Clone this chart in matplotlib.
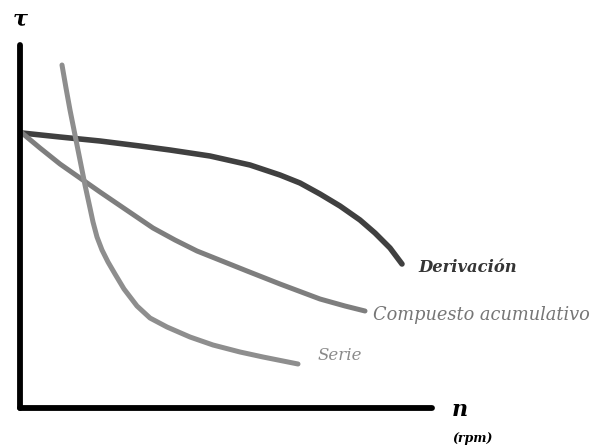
import matplotlib.pyplot as plt
import numpy as np

# curvas par-velocidad de motores de CC (n en x, tau en y)
n_derivacion = [2, 40, 80, 120, 150, 190, 230, 260, 280, 300, 320, 340, 355, 370, 382]
tau_derivacion = [275, 271, 267, 262, 258, 252, 243, 233, 225, 214, 202, 188, 175, 160, 144]

n_compuesto = [2, 20, 40, 60, 80, 105, 133, 155, 177, 202, 227, 260, 300, 325, 345]
tau_compuesto = [275, 260, 244, 230, 216, 199, 180, 168, 157, 147, 137, 124, 109, 102, 97]

n_serie = [42, 46, 50, 55, 60, 65, 70, 73, 77, 82, 88, 95, 104, 117, 130, 147, 170, 193, 220, 243, 278]
tau_serie = [343, 320, 298, 273, 248, 223, 200, 186, 171, 158, 146, 134, 119, 102, 90, 81, 71, 63, 56, 51, 44]

fig = plt.figure(figsize=(5.93, 4.48), dpi=100)
ax = fig.add_axes([0, 0, 1, 1])
ax.set_xlim(-20, 573)
ax.set_ylim(-40, 408)

ax.plot(n_derivacion, tau_derivacion, color='#404040', lw=4.0,
        solid_capstyle='round', solid_joinstyle='round')
ax.plot(n_compuesto, tau_compuesto, color='#7e7e7e', lw=3.6,
        solid_capstyle='round', solid_joinstyle='round')
ax.plot(n_serie, tau_serie, color='#8e8e8e', lw=3.6,
        solid_capstyle='round', solid_joinstyle='round')

# ejes
for s in ['top', 'right']:
    ax.spines[s].set_visible(False)
for s in ['left', 'bottom']:
    ax.spines[s].set_position(('data', 0))
    ax.spines[s].set_linewidth(4.2)
    ax.spines[s].set_capstyle('round')
    ax.spines[s].set_color('black')
ax.spines['left'].set_bounds(0, 363)
ax.spines['bottom'].set_bounds(0, 412)
ax.set_xticks([])
ax.set_yticks([])

serif = 'DejaVu Serif'
ax.text(0, 388, 'τ', fontsize=16, fontweight='bold', style='italic', family=serif,
        ha='center', va='center')
ax.text(440, -2, 'n', fontsize=16, fontweight='bold', style='italic', family=serif,
        ha='center', va='center')
ax.text(452, -30, '(rpm)', fontsize=9, fontweight='bold', style='italic', family=serif,
        ha='center', va='center')
ax.text(398, 141, 'Derivación', fontsize=11.8, fontweight='bold', style='italic',
        family=serif, color='#353535', ha='left', va='center')
ax.text(353, 93, 'Compuesto acumulativo', fontsize=12.8, style='italic',
        family=serif, color='#767676', ha='left', va='center')
ax.text(298, 53, 'Serie', fontsize=12, style='italic',
        family=serif, color='#8a8a8a', ha='left', va='center')

fig.savefig('out.png', dpi=100)
